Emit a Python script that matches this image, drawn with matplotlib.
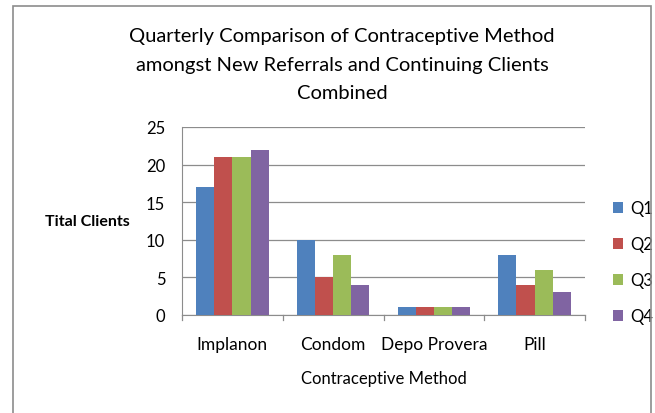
import numpy as np
import matplotlib.pyplot as plt
from matplotlib.patches import Rectangle

methods = ["Implanon", "Condom", "Depo Provera", "Pill"]
quarters = ["Q1", "Q2", "Q3", "Q4"]
q1 = [17, 10, 1, 8]
q2 = [21, 5, 1, 4]
q3 = [21, 8, 1, 6]
q4 = [22, 4, 1, 3]
colors = ["#4f81bd", "#c0504d", "#9bbb59", "#8064a2"]

plt.rcParams['font.family'] = ['Lato', 'DejaVu Sans']

fig = plt.figure(figsize=(6.55, 4.14), dpi=100)
# outer chart border
fig.patches.append(Rectangle((13/655, -0.01), 638/655, 1 - 7/414 + 0.01,
                             transform=fig.transFigure, fill=False,
                             edgecolor="#8c8c8c", lw=1.2))

ax = fig.add_axes([182/655, 1 - 316/414, 403/655, 188/414])

x = np.arange(len(methods))
w = 0.18
for i, (vals, q) in enumerate(zip([q1, q2, q3, q4], quarters)):
    ax.bar(x + (i - 1.5) * w, vals, w, color=colors[i], label=q, zorder=3)

ax.set_xlim(-0.5, 3.5)
ax.set_ylim(0, 25)
ax.set_yticks([0, 5, 10, 15, 20, 25])
ax.yaxis.grid(True, color="#8c8c8c", lw=0.9, zorder=0)
ax.set_xticks(x)
ax.set_xticklabels(methods, fontsize=12.5)
ax.tick_params(axis="x", length=0, pad=15)
ax.tick_params(axis="y", length=0, labelsize=12, pad=12)
# category separator ticks
for b in [-0.5, 0.5, 1.5, 2.5, 3.5]:
    ax.plot([b, b], [0, -0.6], color="#8c8c8c", lw=0.9, clip_on=False)
for s in ["top", "right"]:
    ax.spines[s].set_visible(False)
ax.spines["left"].set_color("#8c8c8c")
ax.spines["bottom"].set_color("#8c8c8c")

ax.set_xlabel("Contraceptive Method", fontsize=12, labelpad=13)
fig.text(45/655, 1 - 222/414, "Tital Clients", fontsize=11.5, fontweight="bold",
         va="center", ha="left")
fig.text(342/655, 1 - 65/414,
         "Quarterly Comparison of Contraceptive Method\namongst New Referrals and Continuing Clients\nCombined",
         fontsize=14.5, ha="center", va="center", linespacing=1.85)

ax.legend(loc="center left", bbox_to_anchor=(1.07, 0.28), borderaxespad=0,
          frameon=False, fontsize=12, handlelength=0.6, handleheight=0.6,
          labelspacing=1.2, handletextpad=0.4, borderpad=0)

fig.savefig("out.png", dpi=100)
